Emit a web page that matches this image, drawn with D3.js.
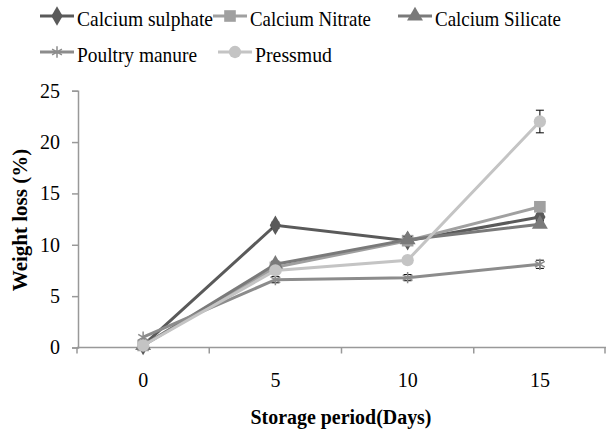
<!DOCTYPE html>
<html>
<head>
<meta charset="utf-8">
<script src="https://cdn.jsdelivr.net/npm/d3@7"></script>
<style>
  body { margin: 0; background: #fff; }
</style>
</head>
<body>
<div id="container"><svg></svg></div>
<script>
let width = 606;
let height = 435;
let fontFamily = 'Liberation Serif';

// data
let days = ['0', '5', '10', '15'];
let series_names = ['Calcium sulphate', 'Calcium Nitrate', 'Calcium Silicate', 'Poultry manure', 'Pressmud'];
let sulphate = [0.2, 11.9, 10.4, 12.7];
let nitrate = [0.2, 7.8, 10.4, 13.7];
let silicate = [0.2, 8.1, 10.5, 12.0];
let poultry = [1.0, 6.6, 6.8, 8.1];
let pressmud = [0.2, 7.5, 8.5, 22.0];
let sulphate_err = [0, 0.3, 0.2, 0.3];
let nitrate_err = [0, 0.3, 0.3, 0.3];
let silicate_err = [0, 0.3, 0.3, 0.3];
let poultry_err = [0, 0.3, 0.3, 0.4];
let pressmud_err = [0, 0.3, 0.3, 1.1];
let y_ticks = [0, 5, 10, 15, 20, 25];

let colors = ['#5a5a5a', '#a0a0a0', '#7a7a7a', '#8c8c8c', '#c4c4c4'];
let symbols = [d3.symbolDiamond, d3.symbolSquare, d3.symbolTriangle, d3.symbolAsterisk, d3.symbolCircle];
let sym_size = [110, 135, 110, 90, 120];

let series = [
    {name: series_names[0], values: sulphate, err: sulphate_err},
    {name: series_names[1], values: nitrate, err: nitrate_err},
    {name: series_names[2], values: silicate, err: silicate_err},
    {name: series_names[3], values: poultry, err: poultry_err},
    {name: series_names[4], values: pressmud, err: pressmud_err}
];

let svg = d3.select('#container').select('svg')
    .attr('width', width)
    .attr('height', height);

let y = d3.scaleLinear().domain([0, 25]).range([347.5, 90.7]);
let x = d3.scaleBand().domain(days).range([77, 606]);
let xc = d => x(d) + x.bandwidth() / 2;

let axisColor = '#999';

// y axis
let yAxis = svg.append('g')
    .attr('transform', 'translate(78,0)')
    .call(d3.axisLeft(y).tickValues(y_ticks).tickSize(6).tickPadding(12));
yAxis.attr('font-family', fontFamily);
yAxis.select('.domain').attr('stroke', axisColor).attr('stroke-width', 1.5);
yAxis.selectAll('.tick line').attr('stroke', axisColor).attr('stroke-width', 1.5);
yAxis.selectAll('.tick text')
    .attr('font-family', fontFamily)
    .attr('font-size', 20)
    .attr('fill', '#000');

// x axis: ticks at band boundaries, labels at band centres
let xg = svg.append('g').attr('transform', 'translate(0,347.5)');
xg.append('line')
    .attr('x1', x.range()[0]).attr('x2', x.range()[1])
    .attr('stroke', axisColor).attr('stroke-width', 1.5);
let bounds = days.map(d => x(d)).concat([x.range()[1] - 1]);
xg.selectAll('.xtick')
    .data(bounds)
    .enter()
    .append('line')
    .attr('x1', d => d).attr('x2', d => d)
    .attr('y1', 0).attr('y2', 6)
    .attr('stroke', axisColor).attr('stroke-width', 1.5);
xg.selectAll('.xlabel')
    .data(days)
    .enter()
    .append('text')
    .attr('x', d => xc(d))
    .attr('y', 39.5)
    .attr('text-anchor', 'middle')
    .attr('font-family', fontFamily)
    .attr('font-size', 20)
    .text(d => d);

// axis titles
svg.append('text')
    .attr('x', 341)
    .attr('y', 424)
    .attr('text-anchor', 'middle')
    .attr('font-family', fontFamily)
    .attr('font-size', 20)
    .attr('font-weight', 'bold')
    .attr('textLength', 181)
    .attr('lengthAdjust', 'spacingAndGlyphs')
    .text('Storage  period(Days)');
svg.append('text')
    .attr('transform', 'translate(27,220) rotate(-90)')
    .attr('text-anchor', 'middle')
    .attr('font-family', fontFamily)
    .attr('font-size', 21)
    .attr('font-weight', 'bold')
    .text('Weight loss (%)');

let line = d3.line()
    .x((d, i) => xc(days[i]))
    .y(d => y(d));

for (var i = 0; i < series.length; ++i) {
    let s = series[i];
    let g = svg.append('g');
    g.append('path')
        .attr('d', line(s.values))
        .attr('fill', 'none')
        .attr('stroke', colors[i])
        .attr('stroke-width', 3);
    // error bars
    let eb = g.selectAll('.err')
        .data(s.values.map((v, j) => ({v: v, e: s.err[j], day: days[j]})).filter(d => d.e > 0))
        .enter()
        .append('g');
    eb.append('line')
        .attr('x1', d => xc(d.day)).attr('x2', d => xc(d.day))
        .attr('y1', d => y(d.v - d.e)).attr('y2', d => y(d.v + d.e))
        .attr('stroke', '#000').attr('stroke-width', 1);
    eb.append('line')
        .attr('x1', d => xc(d.day) - 4).attr('x2', d => xc(d.day) + 4)
        .attr('y1', d => y(d.v - d.e)).attr('y2', d => y(d.v - d.e))
        .attr('stroke', '#000').attr('stroke-width', 1);
    eb.append('line')
        .attr('x1', d => xc(d.day) - 4).attr('x2', d => xc(d.day) + 4)
        .attr('y1', d => y(d.v + d.e)).attr('y2', d => y(d.v + d.e))
        .attr('stroke', '#000').attr('stroke-width', 1);
    // markers
    let sym = d3.symbol().type(symbols[i]).size(sym_size[i]);
    g.selectAll('.mark')
        .data(s.values)
        .enter()
        .append('path')
        .attr('transform', (d, j) => 'translate(' + xc(days[j]) + ',' + y(d) + ')')
        .attr('d', sym())
        .attr('fill', symbols[i] == d3.symbolAsterisk ? 'none' : colors[i])
        .attr('stroke', symbols[i] == d3.symbolAsterisk ? colors[i] : 'none')
        .attr('stroke-width', 1.5);
}

// legend
let legend_pos = [[40, 16], [213, 16], [398, 16], [40, 52], [218, 52]];
let legend_len = [136, 121, 126, 120, 77];
for (var i = 0; i < series.length; ++i) {
    let lg = svg.append('g')
        .attr('transform', 'translate(' + legend_pos[i][0] + ',' + legend_pos[i][1] + ')');
    lg.append('line')
        .attr('x1', 0).attr('x2', 34)
        .attr('stroke', colors[i]).attr('stroke-width', 3);
    lg.append('path')
        .attr('transform', 'translate(17,0)')
        .attr('d', d3.symbol().type(symbols[i]).size(sym_size[i])())
        .attr('fill', symbols[i] == d3.symbolAsterisk ? 'none' : colors[i])
        .attr('stroke', symbols[i] == d3.symbolAsterisk ? colors[i] : 'none')
        .attr('stroke-width', 1.5);
    lg.append('text')
        .attr('x', 37)
        .attr('y', 9.5)
        .attr('font-family', fontFamily)
        .attr('font-size', 21)
        .attr('textLength', legend_len[i])
        .attr('lengthAdjust', 'spacingAndGlyphs')
        .text(series_names[i]);
}
</script>
</body>
</html>
